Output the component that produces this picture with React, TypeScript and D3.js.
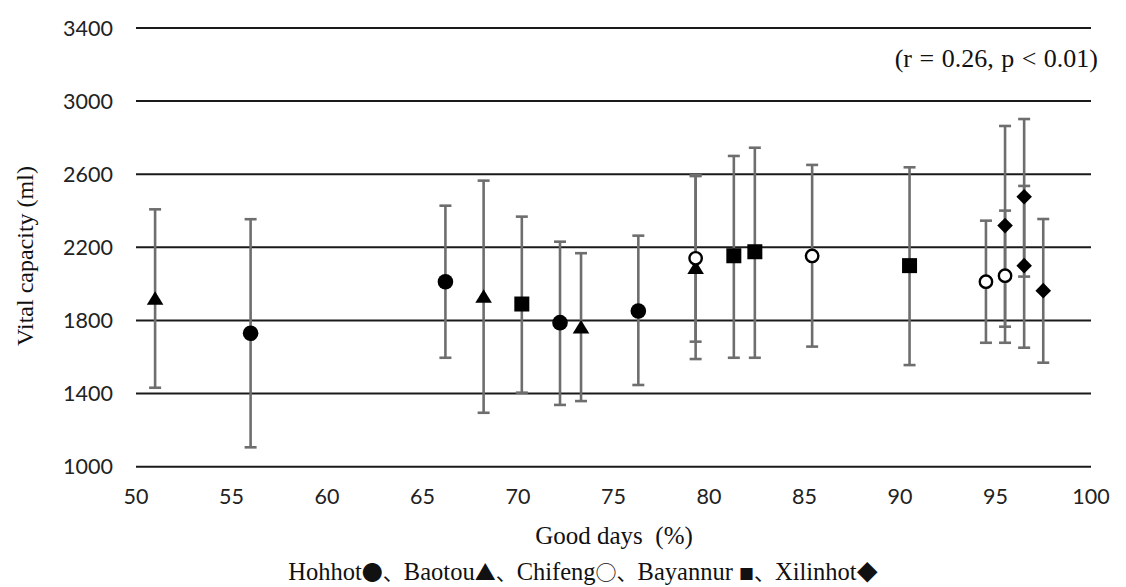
import React from "react";
import * as d3 from "d3";

// [good days %, mean, lower, upper]
const hohhot: number[][] = [
  [56, 1730, 1106, 2354],
  [66.2, 2012, 1596, 2428],
  [72.2, 1788, 1338, 2231],
  [76.3, 1852, 1447, 2264],
];
const baotou: number[][] = [
  [51, 1921, 1432, 2408],
  [68.2, 1932, 1295, 2565],
  [73.3, 1764, 1359, 2168],
  [79.3, 2090, 1589, 2590],
];
const chifeng: number[][] = [
  [79.3, 2140, 1684, 2595],
  [85.4, 2153, 1657, 2651],
  [94.5, 2012, 1678, 2346],
  [95.5, 2045, 1678, 2401],
];
const bayannur: number[][] = [
  [70.2, 1890, 1405, 2368],
  [81.3, 2154, 1596, 2700],
  [82.4, 2176, 1596, 2745],
  [90.5, 2100, 1556, 2638],
];
const xilinhot: number[][] = [
  [95.5, 2319, 1766, 2864],
  [96.5, 2477, 2040, 2902],
  [96.5, 2100, 1651, 2536],
  [97.5, 1963, 1569, 2355],
];

const xTicks = [50, 55, 60, 65, 70, 75, 80, 85, 90, 95, 100];
const yTicks = [1000, 1400, 1800, 2200, 2600, 3000, 3400];
const legendItems = [
  { name: "Hohhot", sym: "●" },
  { name: "Baotou", sym: "▲" },
  { name: "Chifeng", sym: "○" },
  { name: "Bayannur ", sym: "■" },
  { name: "Xilinhot", sym: "◆" },
];
const xTitle = "Good days  (%)";
const yTitle = "Vital capacity (ml)";
const note = "(r = 0.26, p < 0.01)";

const W = 1126;
const H = 587;

export default function App() {
  const x = d3.scaleLinear().domain([50, 100]).range([136, 1091]);
  const y = d3.scaleLinear().domain([1000, 3400]).range([466.7, 28]);

  const series = [
    { data: hohhot, kind: "circle" },
    { data: baotou, kind: "triangle" },
    { data: chifeng, kind: "open" },
    { data: bayannur, kind: "square" },
    { data: xilinhot, kind: "diamond" },
  ];

  const marker = (kind: string, cx: number, cy: number, key: string) => {
    switch (kind) {
      case "circle":
        return <circle key={key} cx={cx} cy={cy} r={7.8} fill="#000" />;
      case "triangle":
        return (
          <path
            key={key}
            d={`M${cx},${cy - 7} L${cx + 8.3},${cy + 6.5} L${cx - 8.3},${cy + 6.5} Z`}
            fill="#000"
          />
        );
      case "open":
        return (
          <circle key={key} cx={cx} cy={cy} r={6.2} fill="#fff" stroke="#000" strokeWidth={2.4} />
        );
      case "square":
        return <rect key={key} x={cx - 7.5} y={cy - 7.5} width={15} height={15} fill="#000" />;
      default:
        return (
          <path
            key={key}
            d={`M${cx},${cy - 7.8} L${cx + 7.8},${cy} L${cx},${cy + 7.8} L${cx - 7.8},${cy} Z`}
            fill="#000"
          />
        );
    }
  };

  const serif = "'Liberation Serif', 'Times New Roman', serif";
  const sans = "Lato, 'Open Sans', sans-serif";
  const cjk = "'Noto Sans CJK SC', 'DejaVu Sans', sans-serif";

  return (
    <svg
      width={W}
      height={H}
      style={{ position: "absolute", left: 0, top: 0, background: "#fff" }}
    >
      <rect x={0} y={0} width={W} height={H} fill="#fff" />
      {yTicks.map((t) => (
        <g key={"y" + t}>
          <line x1={136} x2={1091} y1={y(t)} y2={y(t)} stroke="#1a1a1a" strokeWidth={2} />
          <text
            x={113}
            y={y(t) + 7.5}
            textAnchor="end"
            fontFamily={sans}
            fontSize={21.5}
            fill="#222"
          >
            {t}
          </text>
        </g>
      ))}
      {xTicks.map((t) => (
        <text
          key={"x" + t}
          x={x(t)}
          y={504}
          textAnchor="middle"
          fontFamily={sans}
          fontSize={21.5}
          fill="#222"
        >
          {t}
        </text>
      ))}
      {series.map((s, si) =>
        s.data.map((d, i) => (
          <g key={`e${si}-${i}`} stroke="#6e6e6e" strokeWidth={2.6}>
            <line x1={x(d[0])} x2={x(d[0])} y1={y(d[3])} y2={y(d[2])} />
            <line x1={x(d[0]) - 6} x2={x(d[0]) + 6} y1={y(d[3])} y2={y(d[3])} />
            <line x1={x(d[0]) - 6} x2={x(d[0]) + 6} y1={y(d[2])} y2={y(d[2])} />
          </g>
        ))
      )}
      {series.map((s, si) =>
        s.data.map((d, i) => marker(s.kind, x(d[0]), y(d[1]), `m${si}-${i}`))
      )}
      <text
        x={1098}
        y={67}
        textAnchor="end"
        fontFamily={serif}
        fontSize={26}
        wordSpacing={1}
        fill="#111"
      >
        {note}
      </text>
      <text
        x={614}
        y={544}
        textAnchor="middle"
        fontFamily={serif}
        fontSize={25}
        fill="#111"
        style={{ whiteSpace: "pre" }}
      >
        {xTitle}
      </text>
      <text
        transform={`translate(33,256) rotate(-90)`}
        textAnchor="middle"
        fontFamily={serif}
        fontSize={24}
        fill="#111"
      >
        {yTitle}
      </text>
      <text
        x={583}
        y={580}
        textAnchor="middle"
        fontFamily={serif}
        fontSize={24.5}
        fill="#111"
        style={{ whiteSpace: "pre" }}
      >
        {legendItems.map((it, i) => (
          <React.Fragment key={it.name}>
            <tspan>{it.name}</tspan>
            <tspan fontFamily={cjk} fontSize={it.sym === "■" ? 15 : 21}>
              {it.sym}
            </tspan>
            {i < legendItems.length - 1 ? (
              <tspan fontFamily={cjk} fontSize={21}>
                {"、"}
              </tspan>
            ) : null}
          </React.Fragment>
        ))}
      </text>
    </svg>
  );
}
